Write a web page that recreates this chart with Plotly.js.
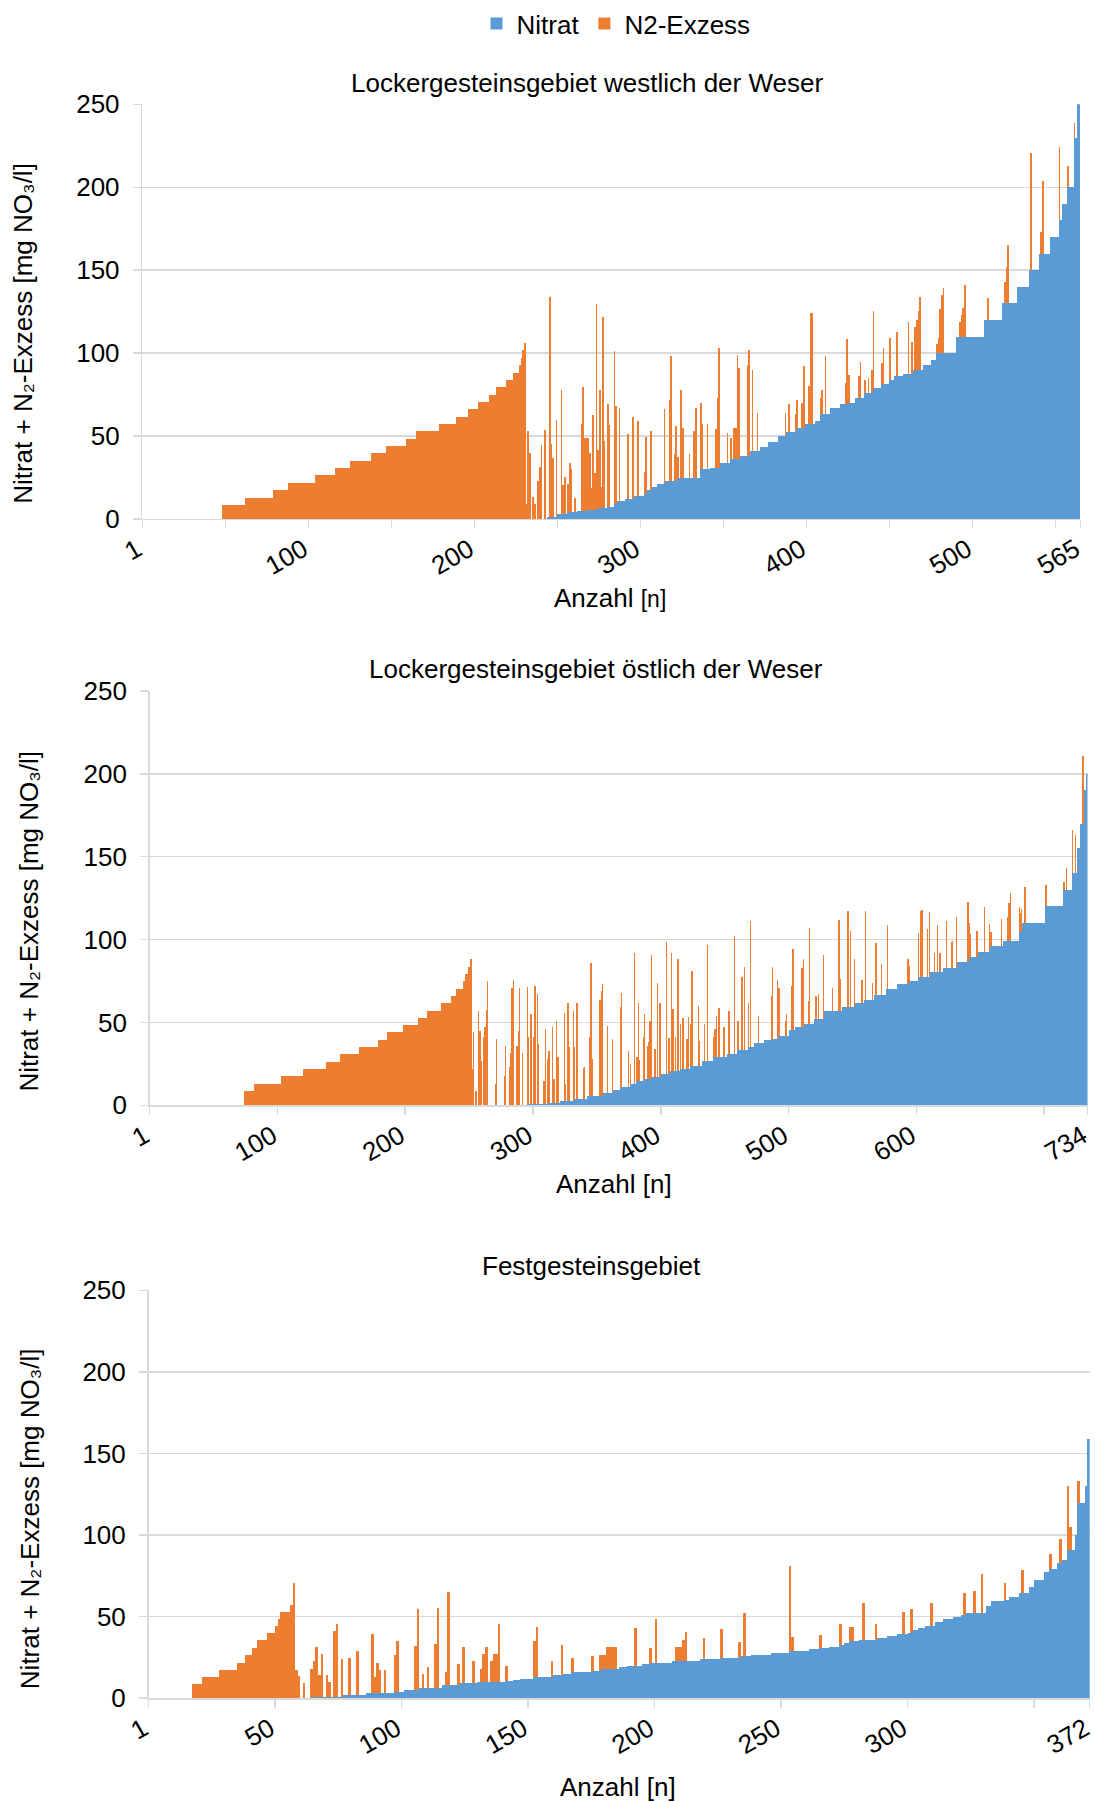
<!DOCTYPE html>
<html>
<head>
<meta charset="utf-8">
<script src="https://cdn.plot.ly/plotly-3.0.1.min.js"></script>
<style>html,body{margin:0;padding:0;background:#fff;}#chart{width:1095px;height:1802px;}</style>
</head>
<body>
<div id="chart"></div>
<script>
// ---------------- DATA ----------------
// Run-length lists: [number of consecutive bars, value in mg NO3/l]
// Spike lists: [bar number n, top of stacked bar (Nitrat + N2-Exzess)]

const countWest = 565;
const countEast = 734;
const countFest = 372;

const nitratWestRuns = [[244,0],[6,1.2],[6,2.9],[6,3.9],[6,4.5],[6,5.3],[6,6.5],[4,7.3],[2,9],[5,11],[5,12],[6,14],[2,15],[3,17.4],[3,19],[5,21],[7,22.6],[14,24.6],[6,30],[6,31],[6,33.5],[6,36],[6,38],[6,41],[5,43.4],[6,46.6],[5,50],[6,52.6],[5,55],[6,57.4],[3,59],[6,63.5],[6,66.7],[5,69],[4,70],[6,73],[5,76],[5,79],[5,81.5],[3,84],[5,86],[6,87.5],[6,89.6],[5,92.8],[3,96],[12,100],[17,110],[11,120],[9,130],[7,140],[6,150],[7,160],[5,170],[2,180],[3,190],[4,200],[2,230],[2,255]];

const exzessWestRuns = [[48,0],[14,8.4],[17,12.9],[9,17.5],[16,21.9],[12,26.3],[9,30.7],[13,35.1],[9,39.6],[12,44.0],[6,48.4],[14,52.8],[10,57.2],[7,61.6],[6,66.1],[7,70.5],[4,74.9],[6,79.3],[4,83.7],[4,88.2],[1,92.6],[1,97],[1,101.6],[1,105.8]];

const spikeTopsWest = [[232,8.8],[233,53],[234,40],[236,13.4],[237,9],[239,22.6],[240,31.4],[241,44.7],[243,53.5],[246,133.7],[247,45.4],[248,37],[250,59.5],[253,77.8],[254,20.6],[255,25],[257,21],[258,34],[259,30],[261,12.6],[265,57.5],[266,79.6],[267,49],[268,49],[269,49],[270,40],[271,18.6],[272,62.7],[273,27.4],[274,129.8],[275,41.5],[276,77.6],[277,19],[278,121.8],[279,46.7],[281,69],[282,56.7],[285,101.3],[286,68],[288,67],[293,51.5],[296,61.6],[299,58.8],[303,28],[304,49.5],[307,53],[315,66.2],[318,71.6],[319,98.3],[321,39],[322,56],[323,37.5],[325,77.6],[326,55],[330,39],[333,53],[334,66.8],[337,69.6],[338,57.5],[341,57.5],[346,54],[347,72.8],[348,103.3],[353,52],[355,49],[357,54.7],[358,54.7],[359,98.9],[360,90.9],[365,92.9],[366,101.7],[368,89.7],[371,64],[388,64],[390,69],[394,63.5],[395,72],[398,69.7],[399,92],[402,80],[403,124.3],[404,124.3],[409,73],[410,78],[412,98],[424,81.7],[425,108.6],[426,87],[432,86],[433,94.8],[436,83.7],[438,84.7],[440,90],[441,125.3],[446,94],[447,102.8],[451,109],[455,112.8],[462,118.9],[464,106.8],[466,116],[467,120],[468,125.3],[469,133.7],[479,105.2],[480,108.8],[481,126.3],[482,135.3],[483,139.4],[493,118.9],[494,122.9],[495,127.3],[496,140.8],[510,133],[520,143],[521,151.8],[522,165],[536,220.7],[542,173],[543,204],[553,224],[558,213],[562,238.8]];

const nitratEastRuns = [[295,0],[16,0.6],[10,1.4],[11,2.6],[10,4],[13,5.4],[8,7.4],[5,9.4],[8,11],[5,12.6],[6,14.7],[6,16],[7,17],[7,18.7],[8,21],[8,22],[9,24],[9,27],[11,29],[8,31],[8,33.5],[5,35],[8,37.5],[6,39.6],[5,40.2],[8,41.6],[5,45.2],[7,47.2],[8,49.2],[8,52.2],[14,56.8],[10,59.2],[7,61.6],[8,63.7],[9,66.3],[9,70.3],[9,73.3],[7,75.3],[10,77.3],[10,80.3],[11,82.9],[9,86.3],[7,89.8],[10,92.4],[10,96.4],[12,99.4],[3,104.4],[18,110],[14,120],[7,130],[4,140],[2,155],[3,170],[2,190],[1,200]];

const exzessEastRuns = [[74,0],[8,8.6],[21,13],[17,17.5],[18,21.9],[11,26.3],[15,30.7],[15,35.1],[7,39.6],[12,44],[12,48.4],[7,52.8],[11,57.2],[8,61.6],[4,66.1],[5,70.5],[2,75],[2,79.3],[2,83.7],[1,88]];

const spikeTopsEast = [[253,22],[254,44],[256,8.6],[258,57],[259,45],[260,27],[262,41],[263,47],[264,57.6],[265,75],[271,13],[272,40],[278,18],[279,36],[282,23],[283,31.5],[284,71],[285,75.7],[288,36],[289,45],[290,71],[292,31.5],[296,71.7],[297,41],[299,55],[301,41],[302,72],[304,67],[305,37],[309,15],[310,46],[312,28],[313,33],[316,47],[317,16],[319,51],[320,29],[325,56],[326,13],[328,61.6],[329,35],[332,57],[333,35],[335,62],[340,22.7],[341,23],[345,41],[346,85.7],[347,28],[353,63.7],[354,69],[355,73],[359,48],[363,40],[369,59.6],[370,68],[375,33],[377,25],[380,92],[382,29],[383,62],[384,27.5],[387,41],[388,55],[390,36],[391,38],[392,51],[393,91],[396,34],[398,74],[400,62],[405,98.4],[407,40.8],[409,91.8],[410,58],[412,41],[414,88],[416,49],[418,53],[421,40],[422,53.6],[424,49],[425,81],[430,60],[431,39],[435,49],[437,97],[442,41],[443,46],[444,54],[446,59],[450,47],[454,57],[458,102.4],[461,51],[464,77.7],[466,83.7],[469,62],[471,111],[477,54],[487,66],[488,83.7],[492,75.7],[493,71],[498,51],[499,55],[503,72],[504,94.4],[511,83],[512,88],[516,63],[517,107],[522,66],[524,67],[528,91],[535,71],[540,112],[541,76],[547,117.5],[549,105],[552,88],[558,75.7],[561,117],[566,74],[569,97.8],[573,85],[578,109],[594,88],[595,84],[602,104],[604,117.5],[605,117.9],[609,106.4],[611,116.5],[615,91.8],[617,109],[619,91.8],[624,111.4],[628,98.4],[629,99.4],[632,113.5],[641,122.5],[642,110],[643,103.4],[648,105.4],[654,119.5],[658,109.4],[659,104.4],[667,112.4],[672,113.5],[673,121.9],[674,128.3],[681,119.5],[682,115.9],[683,118.5],[685,132],[686,132],[702,133],[716,135],[718,143.2],[723,166],[725,163.3],[731,210.8],[732,179.7]];

const nitratFestRuns = [[64,0],[13,0.8],[9,1.8],[11,2.9],[4,3.9],[6,4.9],[9,5.9],[7,7.8],[7,9],[6,9.6],[5,10],[3,10.6],[3,11],[5,11.6],[8,13],[4,14],[3,15],[8,16],[4,16.7],[7,18],[3,18.8],[6,19.6],[3,20.6],[9,21.6],[11,22.7],[8,23.7],[8,24.7],[4,25.7],[8,26.7],[7,27.8],[8,28.8],[4,29.8],[4,30.8],[4,31.4],[2,32.4],[2,33.9],[4,35.1],[7,35.9],[4,36.7],[4,38],[4,39],[2,40],[2,41.6],[3,42.7],[4,44],[3,46.7],[4,48.2],[3,49.8],[2,50.8],[8,52.2],[2,56.3],[5,59.6],[2,60.4],[4,62],[4,64.5],[2,68.2],[4,72.2],[2,77.3],[3,79.4],[2,82.9],[2,84.9],[3,90.6],[1,99.8],[3,119.6],[1,129.8],[1,159]];

const exzessFestRuns = [[17,0],[4,8.6],[7,13],[7,17.5],[3,21.8],[3,26.3],[2,30.8],[4,35.3],[3,39.6],[1,44],[1,48.6],[4,52.9],[1,57.3],[1,70.6]];

const spikeTopsFest = [[59,17.5],[60,13.5],[62,9],[65,18],[66,22.8],[67,31.4],[68,14],[69,27.3],[71,14],[72,10],[74,41],[75,45.3],[77,23.7],[80,24.3],[83,29],[89,39],[90,12.7],[91,21.2],[92,17],[94,17],[98,26.3],[99,35],[106,32],[107,54.3],[109,14.7],[111,19.2],[114,32.9],[115,55.3],[118,16],[119,65],[123,21],[125,31],[129,22.6],[132,18],[133,27],[134,31.4],[136,23],[137,27.3],[138,27.3],[139,45.3],[142,19.6],[153,35],[154,43.7],[160,22.6],[164,32.4],[168,24.3],[176,25.7],[179,26.7],[180,26.7],[181,26.7],[182,31],[183,31],[184,31],[185,31],[193,42.7],[199,30.4],[201,48.4],[209,31.4],[210,31.4],[211,31.4],[212,35.9],[213,40.4],[220,37],[227,42.2],[234,34.5],[236,52.2],[254,80.8],[255,37.5],[266,38.6],[274,45.7],[278,43.3],[279,43.3],[283,58],[288,45.3],[299,52.9],[302,54.9],[310,58],[323,64.7],[327,65.7],[330,76],[339,70.6],[346,78.8],[357,88.6],[361,97.8],[364,129.8],[365,104.9],[368,132.9]];

// axis ticks (labelled ticks, then unlabelled tick marks)
const tickLabelsWest = ["1","100","200","300","400","500","565"];
const tickValsWest   = [0.5,100.5,200.5,300.5,400.5,500.5,565.5];
const minorValsWest  = [50.5,150.5,250.5,350.5,450.5,550.5];
const tickLabelsEast = ["1","100","200","300","400","500","600","734"];
const tickValsEast   = [0.5,100.5,200.5,300.5,400.5,500.5,600.5,734.5];
const minorValsEast  = [700.5];
const tickLabelsFest = ["1","50","100","150","200","250","300","372"];
const tickValsFest   = [0.5,50.5,100.5,150.5,200.5,250.5,300.5,372.5];
const minorValsFest  = [350.5];
const yTickVals = [0,50,100,150,200,250];

const seriesNames = ["Nitrat","N2-Exzess"];
const panelTitles = ["Lockergesteinsgebiet westlich der Weser","Lockergesteinsgebiet östlich der Weser","Festgesteinsgebiet"];

// ---------------- helpers ----------------
function expandRuns(runs, n, padValue) {
  const out = [];
  runs.forEach(function(r){ for (let i = 0; i < r[0]; i++) out.push(r[1]); });
  while (out.length < n) out.push(padValue === undefined ? out[out.length-1] : padValue);
  return out.slice(0, n);
}
function buildExcess(stairRuns, spikeTops, nitrat, n) {
  const ex = expandRuns(stairRuns, n, 0);
  spikeTops.forEach(function(s){
    const i = s[0] - 1;
    if (i >= 0 && i < n) ex[i] = Math.max(0, s[1] - nitrat[i]);
  });
  return ex;
}
function seq(n){ const a=[]; for(let i=1;i<=n;i++) a.push(i); return a; }

const BLUE = "#5B9BD5", ORANGE = "#ED7D31", GRID = "#d9d9d9";
const FONT = "Liberation Sans, Arial, sans-serif";
const Wpx = 1095, Hpx = 1802;
const fx = function(p){ return p / Wpx; };
const fy = function(p){ return 1 - p / Hpx; };

const panels = [
  {n: countWest, nit: nitratWestRuns, exs: exzessWestRuns, sp: spikeTopsWest,
   tv: tickValsWest, tt: tickLabelsWest, mv: minorValsWest, xd: [142.3, 1080.3], yd: [518.2, 103.4]},
  {n: countEast, nit: nitratEastRuns, exs: exzessEastRuns, sp: spikeTopsEast,
   tv: tickValsEast, tt: tickLabelsEast, mv: minorValsEast, xd: [149.7, 1087.5], yd: [1105, 690.3]},
  {n: countFest, nit: nitratFestRuns, exs: exzessFestRuns, sp: spikeTopsFest,
   tv: tickValsFest, tt: tickLabelsFest, mv: minorValsFest, xd: [148.5, 1089.7], yd: [1698, 1290]}
];

const traces = [];
const layout = {
  width: Wpx, height: Hpx,
  margin: {l:0, r:0, t:0, b:0},
  paper_bgcolor: "#fff", plot_bgcolor: "#fff",
  barmode: "stack", bargap: 0,
  font: {family: FONT, size: 26, color: "#000"},
  showlegend: true,
  legend: {orientation: "h", x: fx(616), xanchor: "center", y: fy(23), yanchor: "middle",
           font: {family: FONT, size: 26, color: "#000"}, traceorder: "normal", itemwidth: 30},
  annotations: []
};

panels.forEach(function(p, k){
  const sfx = k === 0 ? "" : String(k+1);
  const x = seq(p.n);
  const nit = expandRuns(p.nit, p.n);
  const ex = buildExcess(p.exs, p.sp, nit, p.n);
  traces.push({type: "bar", x: x, y: nit, name: seriesNames[0], marker: {color: BLUE, line: {width: 0}},
               xaxis: "x"+sfx, yaxis: "y"+sfx, showlegend: k === 0, legendgroup: "n", hoverinfo: "skip"});
  traces.push({type: "bar", x: x, y: ex, name: seriesNames[1], marker: {color: ORANGE, line: {width: 0}},
               xaxis: "x"+sfx, yaxis: "y"+sfx, showlegend: k === 0, legendgroup: "e", hoverinfo: "skip"});
  layout["xaxis"+sfx] = {
    domain: [fx(p.xd[0]), fx(p.xd[1])], anchor: "y"+sfx,
    range: [0.5, p.n + 0.5], showgrid: false, zeroline: false,
    showline: true, linecolor: GRID, linewidth: 1.5,
    tickmode: "array", tickvals: p.tv, ticktext: p.tt,
    ticks: "outside", ticklen: 8, tickcolor: GRID, tickwidth: 1.5, tickangle: -30,
    ticklabeloverflow: "allow", ticklabelshift: -5, ticklabelstandoff: -4,
    minor: {tickmode: "array", tickvals: p.mv, ticks: "outside", ticklen: 8, tickcolor: GRID, tickwidth: 1.5, showgrid: false},
    tickfont: {family: FONT, size: 26, color: "#000"}
  };
  layout["yaxis"+sfx] = {
    domain: [fy(p.yd[0]), fy(p.yd[1])], anchor: "x"+sfx,
    range: [0, 250], tickmode: "array", tickvals: yTickVals,
    showgrid: true, gridcolor: GRID, gridwidth: 1.5, zeroline: false,
    showline: true, linecolor: GRID, linewidth: 1.5,
    ticks: "outside", ticklen: 8, tickcolor: GRID, tickwidth: 1.5,
    ticklabelstandoff: 8, ticklabeloverflow: "allow",
    tickfont: {family: FONT, size: 26, color: "#000"}
  };
});

const yTitle = "Nitrat + N\u2082-Exzess [mg NO\u2083/l]";
const titlePos = [[587, 81.6], [596.4, 668.7], [591.7, 1266.2]];
const xTitlePos = [[610, 597.5], [614, 1183.5], [618, 1786.7]];
const yTitlePos = [[23, 333], [28.7, 920.4], [30, 1519]];
const xTitleText = ['Anzahl <span style="font-size:23px">[n]</span>', 'Anzahl [n]', 'Anzahl [n]'];

for (let k = 0; k < 3; k++) {
  layout.annotations.push({text: panelTitles[k], xref: "paper", yref: "paper", x: fx(titlePos[k][0]), y: fy(titlePos[k][1]),
    xanchor: "center", yanchor: "middle", showarrow: false, font: {family: FONT, size: 26, color: "#000"}});
  layout.annotations.push({text: xTitleText[k], xref: "paper", yref: "paper", x: fx(xTitlePos[k][0]), y: fy(xTitlePos[k][1]),
    xanchor: "center", yanchor: "middle", showarrow: false, font: {family: FONT, size: 26, color: "#000"}});
  layout.annotations.push({text: yTitle, textangle: -90, xref: "paper", yref: "paper", x: fx(yTitlePos[k][0]), y: fy(yTitlePos[k][1]),
    xanchor: "center", yanchor: "middle", showarrow: false, font: {family: FONT, size: 26, color: "#000"}});
}

Plotly.newPlot("chart", traces, layout, {staticPlot: true, displayModeBar: false});
</script>
</body>
</html>
